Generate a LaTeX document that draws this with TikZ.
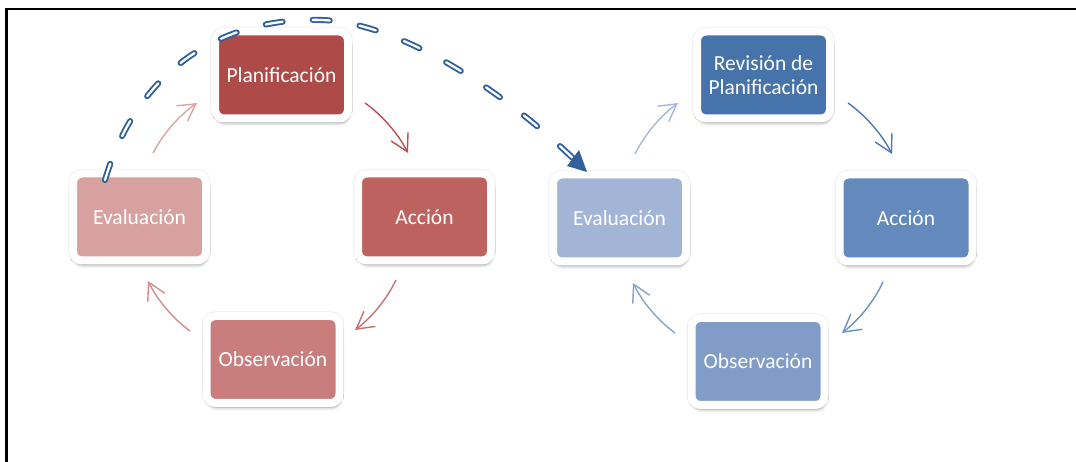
\documentclass[tikz,border=0pt]{standalone}
\usepackage{fontspec}
\setmainfont{Carlito}
\usetikzlibrary{arrows.meta,shadows.blur,calc}

% box fills
\definecolor{redA}{HTML}{AE4B48}
\definecolor{redB}{HTML}{BD625F}
\definecolor{redC}{HTML}{C97E7D}
\definecolor{redD}{HTML}{D7A1A0}
\definecolor{bluA}{HTML}{4673AA}
\definecolor{bluB}{HTML}{6389BD}
\definecolor{bluC}{HTML}{819DC7}
\definecolor{bluD}{HTML}{A2B5D7}
% connector strokes
\definecolor{arrR1}{HTML}{DCA3A3}
\definecolor{arrR2}{HTML}{C0504D}
\definecolor{arrR3}{HTML}{C77270}
\definecolor{arrR4}{HTML}{D28C8B}
\definecolor{arrB1}{HTML}{A5B8DA}
\definecolor{arrB2}{HTML}{4E79B2}
\definecolor{arrB3}{HTML}{6A90C5}
\definecolor{arrB4}{HTML}{86A2CD}
\definecolor{jumpblue}{HTML}{31609A}

\begin{document}
\begin{tikzpicture}[x=1pt,y=1pt,
  stage/.style={rectangle, rounded corners=9pt, draw=white, line width=8pt,
    minimum width=133pt, minimum height=87pt, inner sep=0pt,
    text=white, align=center, font=\fontsize{21.5}{24.5}\selectfont,
    preaction={draw=black!10, line width=9.2pt},
    blur shadow={shadow xshift=1pt, shadow yshift=-5pt,
      shadow blur radius=3pt, shadow opacity=30}},
  flow/.style={line width=1.4pt, bend left=13.5, looseness=0.85,
    -{Straight Barb[length=17pt,width=19pt]}},
  jump/.style={jumpblue, line width=1.9pt, double=white, double distance=2.3pt,
    line cap=round, dash pattern=on 17pt off 30.2pt}
]
\useasboundingbox (0,0) rectangle (1076,462);

% frame edges
\draw[line width=2.2pt] (6.5,0) -- (6.5,453) -- (1076,453);

% first cycle
\node[stage, fill=redA] (pL) at (281.5,387) {Planificación};
\node[stage, fill=redB] (aL) at (424.5,245) {Acción};
\node[stage, fill=redC] (oL) at (273,102.5) {Observación};
\node[stage, fill=redD] (eL) at (139.5,245) {Evaluación};

% second cycle
\node[stage, fill=bluA] (pR) at (763.5,387) {Revisión de\\Planificación};
\node[stage, fill=bluB] (aR) at (906,244) {Acción};
\node[stage, fill=bluC] (oR) at (758,100.5) {Observación};
\node[stage, fill=bluD] (eR) at (619.5,244) {Evaluación};

% arc ends of the first cycle
\coordinate (l1s) at (153,309); \coordinate (l1e) at (197,359);
\coordinate (l2s) at (365,359); \coordinate (l2e) at (408,309);
\coordinate (l3s) at (396,182); \coordinate (l3e) at (355,132);
\coordinate (l4s) at (190,131); \coordinate (l4e) at (148,181);
% arc ends of the second cycle
\coordinate (r1s) at (635,308); \coordinate (r1e) at (678,359);
\coordinate (r2s) at (848,359); \coordinate (r2e) at (892,308);
\coordinate (r3s) at (883,180); \coordinate (r3e) at (842,129);
\coordinate (r4s) at (675,129); \coordinate (r4e) at (633,179);

\draw[flow, arrR1] (l1s) to (l1e);
\draw[flow, arrR2] (l2s) to (l2e);
\draw[flow, arrR3] (l3s) to (l3e);
\draw[flow, arrR4] (l4s) to (l4e);
\draw[flow, arrB1] (r1s) to (r1e);
\draw[flow, arrB2] (r2s) to (r2e);
\draw[flow, arrB3] (r3s) to (r3e);
\draw[flow, arrB4] (r4s) to (r4e);

% jump from the first evaluation to the second one
\coordinate (js) at (105,282);
\coordinate (jt) at (322,442);
\coordinate (je) at (585,292);
\draw[jump] (js) .. controls (140,400) and (230,445) .. (jt)
  .. controls (400,439) and (505,372) .. (je);
\fill[jumpblue] (587,290) -- (579,312) -- (567,296) -- cycle;
\end{tikzpicture}
\end{document}
